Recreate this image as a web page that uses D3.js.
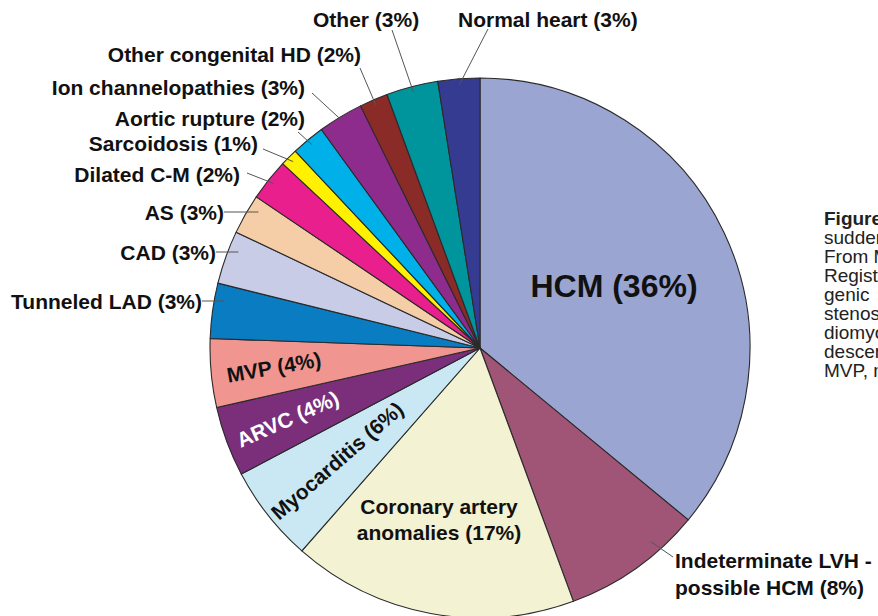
<!DOCTYPE html>
<html>
<head>
<meta charset="utf-8">
<script src="https://cdn.jsdelivr.net/npm/d3@7"></script>
<style>
  html, body { margin: 0; padding: 0; background: #fff; overflow: hidden; }
  svg { display: block; font-family: "Liberation Sans", Arial, Helvetica, sans-serif; }
  .lbl { font-weight: bold; font-size: 21px; fill: #111; }
  .leader { stroke: #555; stroke-width: 1; fill: none; }
  .caption { font-size: 19px; fill: #222; }
</style>
</head>
<body>
<svg id="chart"></svg>
<script>
// Causes of sudden death - pie, clockwise from 12 o'clock

const causes = ['HCM', 'Indeterminate LVH', 'Coronary artery anomalies', 'Myocarditis', 'ARVC', 'MVP',
  'Tunneled LAD', 'CAD', 'AS', 'Dilated C-M', 'Sarcoidosis', 'Aortic rupture',
  'Ion channelopathies', 'Other congenital HD', 'Other', 'Normal heart'];
// share of cases
const shares = [36.0, 8.4, 17.1, 5.8, 4.2, 4.1, 3.3, 3.2, 2.4, 2.5, 1.05, 2.0, 2.7, 1.7, 3.1, 2.5];
// printed percentages
const printed = [36, 8, 17, 6, 4, 4, 3, 3, 3, 2, 1, 2, 3, 2, 3, 3];
const colors = ['#9ba5d2', '#a05577', '#f3f2d3', '#c9e8f4', '#7b2f7b', '#f0958f',
  '#0a7cc1', '#c9cce6', '#f5cea8', '#e81f8d', '#fff100', '#00b1e9',
  '#8d2c8d', '#8b2b27', '#00959d', '#353b91'];

const captionLines = ['Figure 1', 'sudden death', 'From Maron', 'Registry', 'genic', 'stenosis;', 'diomyopathy',
  'descending', 'MVP, mitral'];

const W = 878, H = 616;
const CX = 480, CY = 348, R = 270;

// outside labels: text position, anchor, leader start (flat = horizontal leader)
const outside = {
  'Normal heart':        { x: 458, y: 27,  anchor: 'start', lx: 488, ly: 29 },
  'Other':               { x: 313, y: 27,  anchor: 'start', lx: 392, ly: 30 },
  'Other congenital HD': { x: 361, y: 62,  anchor: 'end',   lx: 360, ly: 68 },
  'Ion channelopathies': { x: 305, y: 95,  anchor: 'end',   lx: 312, ly: 93 },
  'Aortic rupture':      { x: 305, y: 126, anchor: 'end',   lx: 298, ly: 132 },
  'Sarcoidosis':         { x: 258, y: 151, anchor: 'end',   lx: 263, ly: 149 },
  'Dilated C-M':         { x: 240, y: 182, anchor: 'end',   lx: 247, ly: 173 },
  'AS':                  { x: 224, y: 220, anchor: 'end',   lx: 224, ly: 212, flat: true },
  'CAD':                 { x: 216, y: 260, anchor: 'end',   lx: 216, ly: 252, flat: true },
  'Tunneled LAD':        { x: 202, y: 309, anchor: 'end',   lx: 202, ly: 301, flat: true }
};

const svg = d3.select('#chart').attr('width', W).attr('height', H);

const data = causes.map((c, i) => ({ cause: c, share: shares[i], pct: printed[i], color: colors[i] }));

const pie = d3.pie().sort(null).value(d => d.share).startAngle(0).endAngle(2 * Math.PI);
const arc = d3.arc().innerRadius(0).outerRadius(R);
const arcs = pie(data);

const g = svg.append('g').attr('transform', `translate(${CX},${CY})`);

g.selectAll('path.slice')
  .data(arcs)
  .join('path')
  .attr('class', 'slice')
  .attr('d', arc)
  .attr('fill', d => d.data.color)
  .attr('stroke', '#2a2a2a')
  .attr('stroke-width', 1.1)
  .attr('stroke-linejoin', 'round');

// point on a slice at fraction t of its angle, radius r
function slicePoint(a, t, r) {
  const ang = a.startAngle + (a.endAngle - a.startAngle) * t;
  return [CX + r * Math.sin(ang), CY - r * Math.cos(ang)];
}

// leader lines + outside labels
arcs.forEach(a => {
  const o = outside[a.data.cause];
  if (!o) return;
  let p = slicePoint(a, 0.5, R - 6);
  if (o.flat) {
    const rr = R - 10;
    p = [CX - Math.sqrt(rr * rr - (o.ly - CY) * (o.ly - CY)), o.ly];
  }
  svg.append('line').attr('class', 'leader')
    .attr('x1', o.lx).attr('y1', o.ly).attr('x2', p[0]).attr('y2', p[1]);
  svg.append('text').attr('class', 'lbl')
    .attr('x', o.x).attr('y', o.y)
    .attr('text-anchor', o.anchor)
    .text(`${a.data.cause} (${a.data.pct}%)`);
});

// Indeterminate LVH, two lines with leader
const ind = arcs[1];
const ip = slicePoint(ind, 0.3, R - 12);
svg.append('line').attr('class', 'leader')
  .attr('x1', 673).attr('y1', 557).attr('x2', ip[0]).attr('y2', ip[1]);
const indT = svg.append('text').attr('class', 'lbl').attr('x', 675).attr('y', 568);
indT.append('tspan').attr('x', 675).text('Indeterminate LVH -');
indT.append('tspan').attr('x', 675).attr('dy', 27).text(`possible HCM (${ind.data.pct}%)`);

// HCM label
svg.append('text').attr('class', 'lbl')
  .attr('x', 614).attr('y', 297)
  .attr('text-anchor', 'middle')
  .style('font-size', '32px')
  .text(`HCM (${arcs[0].data.pct}%)`);

// Coronary artery anomalies
const cor = svg.append('text').attr('class', 'lbl').attr('text-anchor', 'middle').attr('y', 514);
cor.append('tspan').attr('x', 439).text('Coronary artery');
cor.append('tspan').attr('x', 439).attr('dy', 26).text(`anomalies (${arcs[2].data.pct}%)`);

// rotated inside labels
const inside = [
  { i: 5, r: 207, rot: -10, fill: '#111' },
  { i: 4, r: 205, rot: -24, fill: '#fff' },
  { i: 3, r: 182, rot: -41, fill: '#111' }
];
inside.forEach(s => {
  const a = arcs[s.i];
  const p = slicePoint(a, 0.5, s.r);
  svg.append('text').attr('class', 'lbl')
    .attr('transform', `translate(${p[0]},${p[1]}) rotate(${s.rot})`)
    .attr('text-anchor', 'middle')
    .attr('dy', '0.35em')
    .style('fill', s.fill)
    .text(`${a.data.cause} (${a.data.pct}%)`);
});

// figure caption (cut off at the right edge, as in the source page)
const cap = svg.append('text').attr('class', 'caption').attr('y', 225);
captionLines.forEach((t, i) => {
  cap.append('tspan').attr('x', 824).attr('dy', i === 0 ? 0 : 19)
    .style('font-weight', i === 0 ? 'bold' : 'normal')
    .text(t);
});
</script>
</body>
</html>
